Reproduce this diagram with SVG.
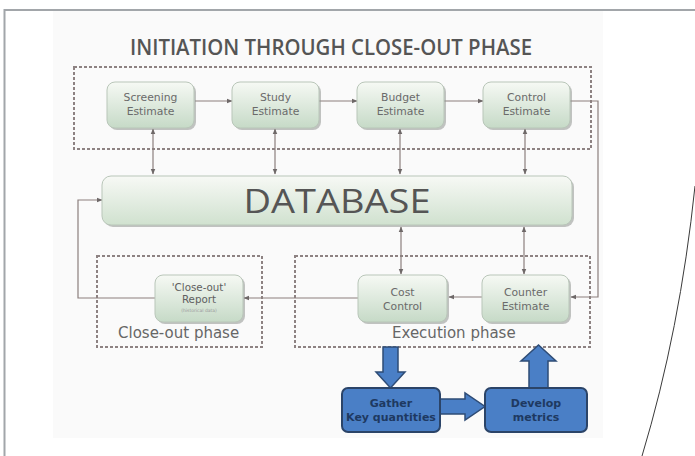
<svg xmlns="http://www.w3.org/2000/svg" width="695" height="456" viewBox="0 0 695 456">
  <defs>
    <linearGradient id="gBox" x1="0" y1="0" x2="0" y2="1">
      <stop offset="0" stop-color="#f6f9f4"/>
      <stop offset="1" stop-color="#c6dac7"/>
    </linearGradient>
    <linearGradient id="gDb" x1="0" y1="0" x2="0" y2="1">
      <stop offset="0" stop-color="#f7f9f5"/>
      <stop offset="1" stop-color="#d0e1cf"/>
    </linearGradient>
    <marker id="ah" viewBox="0 0 10 10" refX="9" refY="5" markerWidth="6" markerHeight="6" orient="auto-start-reverse" markerUnits="userSpaceOnUse">
      <path d="M0,1 L10,5 L0,9 Z" fill="#6e6868"/>
    </marker>
    <style>
      .frame { fill: none; stroke: #a2a6aa; stroke-width: 2; }
      .curve { fill: none; stroke: #3a3a3a; stroke-width: 1; }
      .zone { fill: none; stroke: #8d8282; stroke-width: 2; stroke-dasharray: 3 2; }
      .shadow { fill: #8f938f; opacity: 0.55; }
      .box { fill: url(#gBox); stroke: #b9c6b9; stroke-width: 1; }
      .db { fill: url(#gDb); stroke: #b9c6b9; stroke-width: 1; }
      .lbl { font-family: "DejaVu Sans", "Open Sans", sans-serif; font-size: 10.8px; fill: #6a6a6a; text-anchor: middle; }
      .rep { font-family: "DejaVu Sans", "Open Sans", sans-serif; font-size: 10.3px; fill: #606060; text-anchor: middle; }
      .tiny { font-family: "DejaVu Sans", "Open Sans", sans-serif; font-size: 4.5px; fill: #9a9a9a; text-anchor: middle; }
      .phase { font-family: "DejaVu Sans", "Open Sans", sans-serif; font-size: 15px; fill: #666; }
      .title { font-family: "Open Sans", "DejaVu Sans", sans-serif; font-size: 21px; font-weight: 600; fill: #555; }
      .big { font-family: "Open Sans", "DejaVu Sans", sans-serif; font-size: 32px; fill: #555; text-anchor: middle; }
      .link { fill: none; stroke: #8b7f7d; stroke-width: 1.2; marker-end: url(#ah); }
      .both { marker-start: url(#ah); }
      .blue { fill: #4a7fc6; stroke: #2b4468; stroke-width: 2; }
      .barrow { fill: #4a7fc6; stroke: #2e4c76; stroke-width: 1.5; stroke-linejoin: miter; }
      .btxt { font-family: "DejaVu Sans", "Open Sans", sans-serif; font-size: 11px; font-weight: 700; fill: #1e3961; text-anchor: middle; }
    </style>
  </defs>

  <!-- page -->
  <rect width="695" height="456" fill="#ffffff"/>
  <rect x="53" y="11" width="550" height="427" fill="#fafafa"/>
  <path class="frame" d="M4.5,456 V10 H695"/>
  <path class="curve" d="M695,186 Q680,330 642,456"/>

  <!-- heading -->
  <text class="title" x="130" y="55" textLength="402" lengthAdjust="spacingAndGlyphs">INITIATION THROUGH CLOSE-OUT PHASE</text>

  <!-- phase zones -->
  <g id="zone-initiation">
    <rect class="zone" x="74" y="67" width="517" height="82"/>
  </g>
  <g id="zone-closeout">
    <rect class="zone" x="97" y="256" width="165" height="91"/>
    <text class="phase" x="118" y="338">Close-out phase</text>
  </g>
  <g id="zone-execution">
    <rect class="zone" x="295" y="256" width="295" height="91"/>
    <text class="phase" x="392" y="338">Execution phase</text>
  </g>

  <!-- connectors -->
  <g id="connectors">
    <path class="link" d="M195,101 H232"/>
    <path class="link" d="M318,101 H357"/>
    <path class="link" d="M443,101 H483"/>
    <path class="link" d="M570,101 H598 V297 H571"/>
    <path class="link" d="M482,297 H449"/>
    <path class="link" d="M358,298 H244"/>
    <path class="link" d="M155,298 H78 V200 H102"/>
    <path class="link both" d="M153,129 V174"/>
    <path class="link both" d="M275,129 V174"/>
    <path class="link both" d="M400,129 V174"/>
    <path class="link both" d="M525,129 V174"/>
    <path class="link both" d="M401,227 V274"/>
    <path class="link both" d="M524,227 V274"/>
    <!-- block arrows -->
    <path class="barrow" d="M383,347 H398 V372 H405 L390.5,388 L376,372 H383 Z"/>
    <path class="barrow" d="M440,399 H465 V393 L485,406.5 L465,420 V414 H440 Z"/>
    <path class="barrow" d="M529,388 V361 H521 L538.5,345 L556,361 H548 V388 Z"/>
  </g>

  <!-- nodes -->
  <g id="screening-estimate">
    <rect class="shadow" x="109" y="84" width="87" height="46" rx="8"/>
    <rect class="box" x="107" y="82" width="87" height="46" rx="8"/>
    <text class="lbl" x="150.5" y="101">Screening</text>
    <text class="lbl" x="150.5" y="114.5">Estimate</text>
  </g>
  <g id="study-estimate">
    <rect class="shadow" x="234" y="84" width="87" height="46" rx="8"/>
    <rect class="box" x="232" y="82" width="87" height="46" rx="8"/>
    <text class="lbl" x="275.5" y="101">Study</text>
    <text class="lbl" x="275.5" y="114.5">Estimate</text>
  </g>
  <g id="budget-estimate">
    <rect class="shadow" x="359" y="84" width="87" height="46" rx="8"/>
    <rect class="box" x="357" y="82" width="87" height="46" rx="8"/>
    <text class="lbl" x="400.5" y="101">Budget</text>
    <text class="lbl" x="400.5" y="114.5">Estimate</text>
  </g>
  <g id="control-estimate">
    <rect class="shadow" x="485" y="84" width="87" height="46" rx="8"/>
    <rect class="box" x="483" y="82" width="87" height="46" rx="8"/>
    <text class="lbl" x="526.5" y="101">Control</text>
    <text class="lbl" x="526.5" y="114.5">Estimate</text>
  </g>

  <g id="database">
    <rect class="shadow" x="104" y="178" width="470" height="49" rx="9"/>
    <rect class="db" x="102" y="176" width="470" height="49" rx="9"/>
    <text class="big" x="337" y="213" textLength="187" lengthAdjust="spacingAndGlyphs">DATABASE</text>
  </g>

  <g id="closeout-report">
    <rect class="shadow" x="157" y="277" width="88" height="47" rx="8"/>
    <rect class="box" x="155" y="275" width="88" height="47" rx="8"/>
    <text class="rep" x="199" y="290.5">'Close-out'</text>
    <text class="rep" x="199" y="303">Report</text>
    <text class="tiny" x="199" y="312">(historical data)</text>
  </g>

  <g id="cost-control">
    <rect class="shadow" x="360" y="277" width="89" height="47" rx="8"/>
    <rect class="box" x="358" y="275" width="89" height="47" rx="8"/>
    <text class="lbl" x="402.5" y="296">Cost</text>
    <text class="lbl" x="402.5" y="310">Control</text>
  </g>

  <g id="counter-estimate">
    <rect class="shadow" x="484" y="277" width="87" height="47" rx="8"/>
    <rect class="box" x="482" y="275" width="87" height="47" rx="8"/>
    <text class="lbl" x="525.5" y="296">Counter</text>
    <text class="lbl" x="525.5" y="310">Estimate</text>
  </g>

  <g id="gather-key-quantities">
    <rect class="blue" x="342" y="388" width="98" height="44" rx="6"/>
    <text class="btxt" x="391" y="407">Gather</text>
    <text class="btxt" x="391" y="421">Key quantities</text>
  </g>

  <g id="develop-metrics">
    <rect class="blue" x="485" y="388" width="102" height="44" rx="6"/>
    <text class="btxt" x="536" y="407">Develop</text>
    <text class="btxt" x="536" y="421">metrics</text>
  </g>
</svg>
